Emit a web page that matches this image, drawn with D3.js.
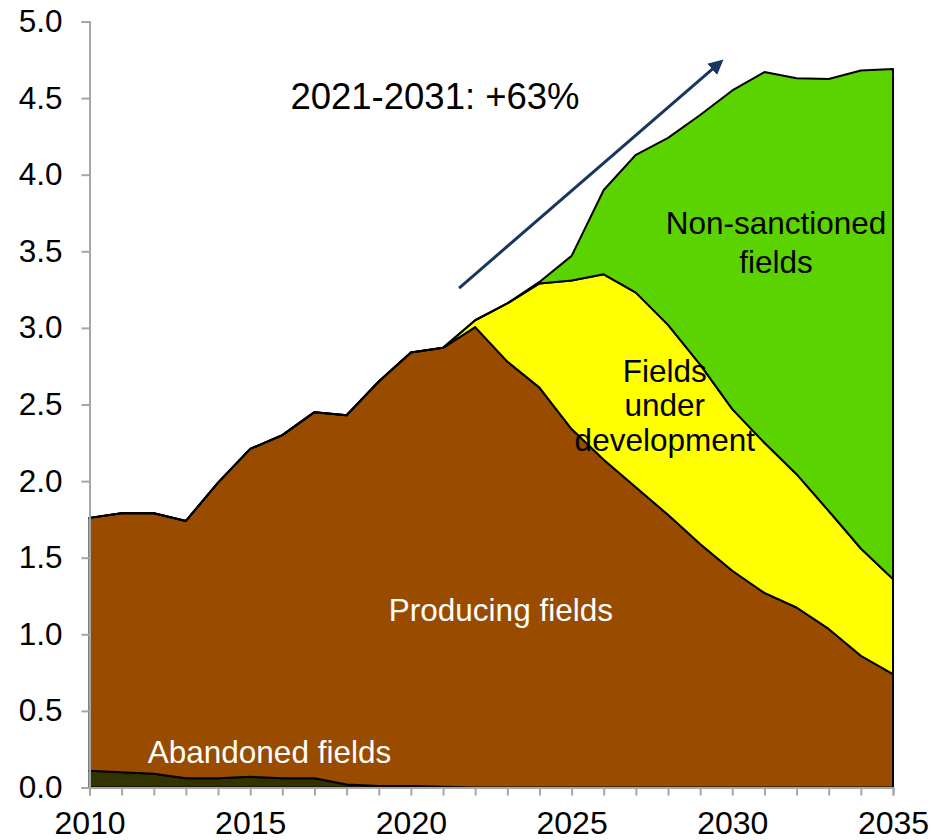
<!DOCTYPE html>
<meta charset="utf-8">

<!-- Load d3.js -->
<script src="https://d3js.org/d3.v7.min.js"></script>

<style>
  body { margin: 0; background: #fff; }
  text { font-family: "Liberation Sans", Arial, sans-serif; }
</style>

<!-- Create a div where the graph will take place -->
<div id="my_dataviz"></div>

<script>

// data (stacked layers, bottom to top)
var years = d3.range(2010, 2036);
var abandoned = [0.11, 0.10, 0.09, 0.06, 0.06, 0.07, 0.06, 0.06, 0.02, 0.01, 0.01, 0.005, 0, 0, 0, 0, 0, 0, 0, 0, 0, 0, 0, 0, 0, 0];
var producing = [1.65, 1.69, 1.70, 1.68, 1.93, 2.14, 2.24, 2.39, 2.41, 2.64, 2.83, 2.865, 3.005, 2.78, 2.61, 2.34, 2.14, 1.96, 1.78, 1.59, 1.415, 1.27, 1.175, 1.035, 0.86, 0.74];
var underDev = [0, 0, 0, 0, 0, 0, 0, 0, 0, 0, 0, 0, 0.045, 0.38, 0.68, 0.97, 1.21, 1.27, 1.24, 1.17, 1.055, 0.98, 0.87, 0.77, 0.70, 0.62];
var nonSanctioned = [0, 0, 0, 0, 0, 0, 0, 0, 0, 0, 0, 0, 0, 0, 0.01, 0.16, 0.55, 0.90, 1.22, 1.63, 2.08, 2.42, 2.585, 2.82, 3.12, 3.33];

var keys = ["abandoned", "producing", "underDev", "nonSanctioned"];
var colors = {abandoned: "#333300", producing: "#994C00", underDev: "#FFFF00", nonSanctioned: "#5BD300"};
var yTicks = [0, 0.5, 1, 1.5, 2, 2.5, 3, 3.5, 4, 4.5, 5];
var xLabelYears = [2010, 2015, 2020, 2025, 2030, 2035];

// set the dimensions and margins of the graph
var margin = {top: 21.5, right: 38, bottom: 52.5, left: 89.5},
    width = 931 - margin.left - margin.right,
    height = 840 - margin.top - margin.bottom;

// append the svg object to the body of the page
var svg = d3.select("#my_dataviz")
  .append("svg")
    .attr("width", width + margin.left + margin.right)
    .attr("height", height + margin.top + margin.bottom)
  .append("g")
    .attr("transform", "translate(" + margin.left + "," + margin.top + ")");

var table = years.map(function(y, i) {
  return {year: y, abandoned: abandoned[i], producing: producing[i], underDev: underDev[i], nonSanctioned: nonSanctioned[i]};
});

var x = d3.scaleLinear().domain([2010, 2035]).range([0, width]);
var y = d3.scaleLinear().domain([0, 5]).range([height, 0]);

var stacked = d3.stack().keys(keys)(table);

var area = d3.area()
  .x(function(d) { return x(d.data.year); })
  .y0(function(d) { return y(d[0]); })
  .y1(function(d) { return y(d[1]); });

// areas
svg.selectAll(".layer")
  .data(stacked)
  .enter()
  .append("path")
    .attr("class", "layer")
    .attr("d", area)
    .attr("fill", function(d) { return colors[d.key]; })
    .attr("stroke", "#000")
    .attr("stroke-width", 2)
    .attr("stroke-linejoin", "round");

// X axis
var xAxis = svg.append("g")
  .attr("transform", "translate(0," + height + ")")
  .call(d3.axisBottom(x)
    .tickValues(years)
    .tickSize(8)
    .tickPadding(16)
    .tickFormat(function(d) { return xLabelYears.indexOf(d) >= 0 ? d : ""; }));
xAxis.selectAll("text").style("font-size", "32px").attr("fill", "#000");

// Y axis
var yAxis = svg.append("g")
  .call(d3.axisLeft(y)
    .tickValues(yTicks)
    .tickSize(8)
    .tickPadding(19)
    .tickFormat(d3.format(".1f")));
yAxis.selectAll("text").style("font-size", "31.5px").attr("fill", "#000");

svg.selectAll(".domain, .tick line")
  .attr("stroke", "#A6A6A6")
  .attr("stroke-width", 2);

// arrow annotation
svg.append("defs").append("marker")
    .attr("id", "head")
    .attr("viewBox", "0 0 10 10")
    .attr("refX", 5)
    .attr("refY", 5)
    .attr("markerWidth", 5)
    .attr("markerHeight", 5)
    .attr("orient", "auto")
  .append("path")
    .attr("d", "M0,0 L10,5 L0,10 Z")
    .attr("fill", "#17375E");

svg.append("line")
  .attr("x1", x(2021.5))
  .attr("y1", y(3.26))
  .attr("x2", x(2029.55))
  .attr("y2", y(4.72))
  .attr("stroke", "#17375E")
  .attr("stroke-width", 3)
  .attr("marker-end", "url(#head)");

svg.append("text")
  .attr("x", x(2016.25))
  .attr("y", y(4.43))
  .style("font-size", "36.5px")
  .text("2021-2031: +63%");

// area labels
function label(lines, xv, yv, gap, color) {
  var t = svg.append("text")
    .attr("text-anchor", "middle")
    .attr("fill", color)
    .style("font-size", "31.5px");
  lines.forEach(function(s, i) {
    t.append("tspan")
      .attr("x", x(xv))
      .attr("y", y(yv) + i * gap)
      .text(s);
  });
}

label(["Non-sanctioned", "fields"], 2031.36, 3.61, 38.5, "#000");
label(["Fields", "under", "development"], 2027.9, 2.65, 34.5, "#000");
label(["Producing fields"], 2022.8, 1.09, 0, "#fff");
label(["Abandoned fields"], 2015.6, 0.157, 0, "#fff");

</script>
